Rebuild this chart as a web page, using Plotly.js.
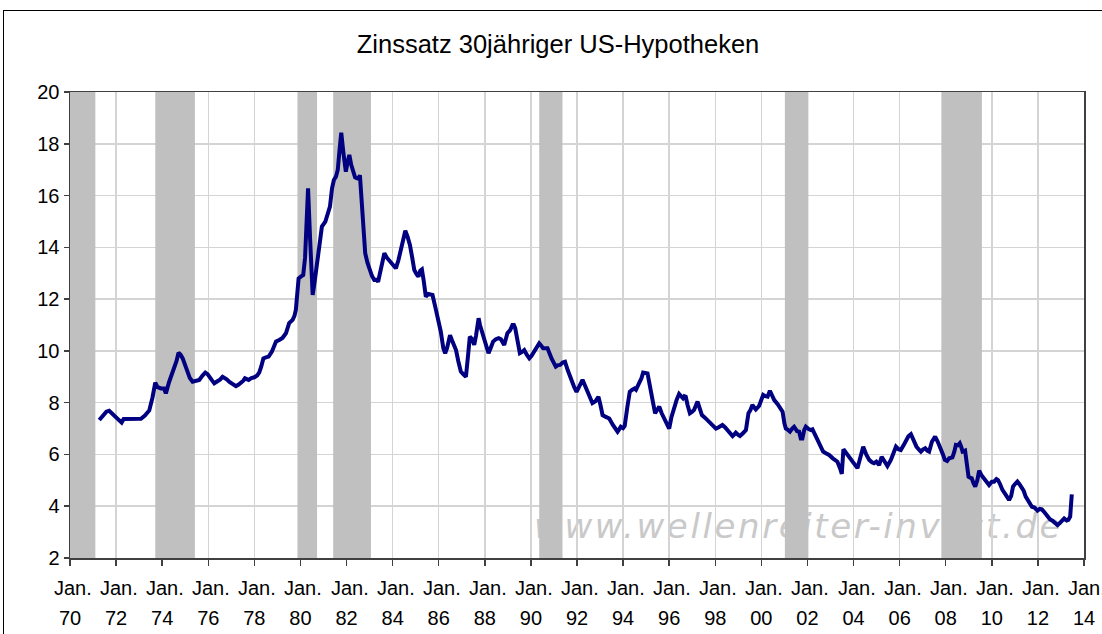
<!DOCTYPE html>
<html>
<head>
<meta charset="utf-8">
<script src="https://cdn.plot.ly/plotly-3.0.1.min.js"></script>
<style>
  html, body { margin:0; padding:0; background:#fff; overflow:hidden; }
  #wrap { position:relative; width:1102px; height:634px; overflow:hidden; }
  #frame { position:absolute; left:3px; top:10px; width:1200px; height:800px; border:1px solid #000; box-sizing:border-box; pointer-events:none; }
  #wm { position:absolute; left:534px; top:506px; font-family:"DejaVu Sans", sans-serif; font-style:italic; font-size:34px; letter-spacing:2.6px; color:#c9c9c9; white-space:nowrap; }
  #chart { position:absolute; left:0; top:0; width:1130px; height:634px; }
</style>
</head>
<body>
<div id="wrap">
  <div id="wm">www.wellenreiter-invest.de</div>
  <div id="chart"></div>
  <div id="frame"></div>
</div>
<script>
// Dates as decimal years, values in percent
const years = [
1971.27,1971.45,1971.58,1971.70,1971.85,1972.0,1972.12,1972.24,1972.33,1972.5,1972.7,1972.9,1973.08,1973.25,1973.44,1973.58,1973.70,1973.80,1973.95,1974.08,
1974.16,1974.30,1974.38,1974.52,1974.62,1974.71,1974.80,1974.89,1975.0,1975.1,1975.2,1975.32,1975.45,1975.61,1975.75,1975.87,1975.97,1976.07,1976.17,1976.26,
1976.40,1976.52,1976.62,1976.72,1976.80,1976.92,1977.05,1977.2,1977.32,1977.42,1977.52,1977.59,1977.75,1977.87,1978.0,1978.12,1978.21,1978.3,1978.39,1978.5,
1978.62,1978.76,1978.85,1978.94,1979.08,1979.22,1979.37,1979.51,1979.66,1979.74,1979.80,1979.86,1979.92,1980.03,1980.12,1980.2,1980.27,1980.33,1980.42,1980.53,
1980.62,1980.70,1980.79,1980.87,1980.93,1981.08,1981.18,1981.28,1981.37,1981.45,1981.54,1981.62,1981.70,1981.77,1981.87,1981.97,1982.05,1982.12,1982.20,1982.29,
1982.37,1982.44,1982.52,1982.58,1982.65,1982.73,1982.81,1982.91,1983.01,1983.1,1983.2,1983.29,1983.37,1983.48,1983.56,1983.64,1983.75,1983.88,1984.0,1984.14,
1984.25,1984.36,1984.45,1984.55,1984.65,1984.75,1984.85,1984.94,1985.05,1985.12,1985.20,1985.27,1985.35,1985.44,1985.55,1985.65,1985.73,1985.85,1985.95,1986.02,
1986.09,1986.2,1986.28,1986.36,1986.49,1986.58,1986.68,1986.75,1986.85,1986.96,1987.06,1987.18,1987.27,1987.35,1987.45,1987.54,1987.62,1987.73,1987.79,1987.93,
1988.05,1988.16,1988.25,1988.36,1988.48,1988.6,1988.7,1988.78,1988.84,1988.98,1989.1,1989.2,1989.26,1989.32,1989.42,1989.52,1989.6,1989.71,1989.82,1989.93,
1990.02,1990.1,1990.25,1990.36,1990.45,1990.53,1990.62,1990.72,1990.9,1991.08,1991.18,1991.27,1991.38,1991.48,1991.6,1991.74,1991.88,1991.98,1992.1,1992.24,
1992.35,1992.46,1992.57,1992.67,1992.8,1992.93,1993.02,1993.11,1993.25,1993.40,1993.55,1993.7,1993.76,1993.83,1993.9,1994.0,1994.07,1994.18,1994.29,1994.4,
1994.5,1994.56,1994.62,1994.7,1994.8,1994.87,1994.97,1995.06,1995.13,1995.2,1995.3,1995.39,1995.48,1995.57,1995.67,1995.78,1995.9,1996.0,1996.1,1996.22,
1996.32,1996.43,1996.52,1996.6,1996.66,1996.72,1996.8,1996.9,1997.0,1997.08,1997.23,1997.32,1997.42,1997.55,1997.66,1997.85,1998.03,1998.15,1998.31,1998.42,
1998.53,1998.65,1998.75,1998.83,1998.89,1999.0,1999.07,1999.2,1999.33,1999.44,1999.52,1999.61,1999.76,1999.9,2000.0,2000.08,2000.18,2000.27,2000.37,2000.46,
2000.56,2000.7,2000.82,2000.92,2001.0,2001.06,2001.15,2001.24,2001.34,2001.42,2001.55,2001.64,2001.71,2001.78,2001.86,2001.93,2002.05,2002.15,2002.22,2002.35,
2002.48,2002.58,2002.68,2002.8,2002.94,2003.1,2003.3,2003.42,2003.49,2003.56,2003.65,2003.81,2003.95,2004.08,2004.17,2004.3,2004.42,2004.55,2004.68,2004.8,
2004.89,2004.99,2005.11,2005.22,2005.35,2005.47,2005.62,2005.75,2005.84,2005.95,2006.05,2006.17,2006.27,2006.38,2006.49,2006.6,2006.73,2006.82,2006.92,2007.02,
2007.11,2007.2,2007.28,2007.4,2007.54,2007.65,2007.79,2007.88,2007.96,2008.06,2008.15,2008.29,2008.37,2008.44,2008.53,2008.61,2008.67,2008.73,2008.84,2008.92,
2008.99,2009.06,2009.13,2009.2,2009.28,2009.37,2009.45,2009.55,2009.67,2009.78,2009.88,2010.0,2010.1,2010.2,2010.27,2010.36,2010.46,2010.6,2010.75,2010.84,
2010.92,2011.0,2011.11,2011.2,2011.3,2011.38,2011.47,2011.6,2011.74,2011.85,2011.98,2012.08,2012.17,2012.3,2012.41,2012.52,2012.63,2012.75,2012.85,2012.95,
2013.05,2013.14,2013.25,2013.32,2013.4,2013.47
];
const rates = [
7.33,7.55,7.65,7.69,7.55,7.42,7.30,7.23,7.37,7.37,7.37,7.37,7.38,7.5,7.7,8.2,8.77,8.6,8.55,8.55,
8.36,8.8,9.0,9.26,9.6,9.93,9.85,9.71,9.45,9.13,8.95,8.81,8.85,8.88,9.05,9.16,9.1,9.0,8.85,8.75,
8.81,8.9,9.0,8.95,8.9,8.8,8.71,8.64,8.7,8.77,8.85,8.94,8.88,8.95,8.98,9.05,9.16,9.4,9.71,9.75,
9.78,9.97,10.15,10.36,10.42,10.5,10.68,11.07,11.2,11.35,11.58,12.2,12.8,12.88,12.93,13.6,15.5,16.28,14.3,12.16,
12.7,13.2,13.77,14.3,14.8,14.99,15.3,15.57,16.28,16.6,16.73,17.0,17.8,18.43,17.6,16.92,17.3,17.57,17.2,16.92,
16.7,16.67,16.65,16.79,15.8,14.8,13.77,13.4,13.12,12.9,12.74,12.75,12.67,13.2,13.55,13.77,13.6,13.45,13.35,13.19,
13.5,13.9,14.3,14.64,14.4,14.09,13.6,13.12,12.95,12.87,13.1,13.15,12.7,12.09,12.2,12.17,12.16,11.7,11.32,11.0,
10.74,10.1,9.91,10.1,10.61,10.4,10.15,10.03,9.6,9.2,9.1,9.0,9.8,10.55,10.45,10.23,10.6,11.26,11.0,10.61,
10.2,9.91,10.1,10.36,10.45,10.49,10.45,10.3,10.23,10.68,10.8,11.0,11.0,10.87,10.4,9.91,9.95,10.03,9.85,9.71,
9.8,9.91,10.15,10.29,10.2,10.1,10.1,10.1,9.7,9.39,9.45,9.46,9.55,9.58,9.25,8.88,8.6,8.42,8.65,8.88,
8.65,8.42,8.2,7.98,8.05,8.23,7.9,7.52,7.45,7.39,7.15,6.95,6.88,6.97,7.07,7.02,7.1,7.8,8.42,8.5,
8.55,8.5,8.6,8.75,8.95,9.16,9.15,9.13,8.8,8.36,8.0,7.59,7.7,7.85,7.6,7.39,7.2,7.0,7.45,7.85,
8.1,8.34,8.25,8.17,8.25,8.23,7.9,7.59,7.65,7.72,8.04,7.8,7.52,7.42,7.33,7.15,7.0,7.05,7.14,7.05,
6.94,6.85,6.71,6.78,6.84,6.75,6.71,6.82,6.94,7.59,7.7,7.91,7.74,7.87,8.1,8.3,8.25,8.23,8.46,8.25,
8.1,7.95,7.8,7.65,7.2,7.0,6.95,6.88,7.0,7.07,6.9,6.88,6.62,6.62,6.95,7.07,6.98,6.94,6.97,6.7,
6.43,6.25,6.11,6.05,5.98,5.85,5.72,5.45,5.25,6.2,6.1,5.91,5.75,5.6,5.47,5.9,6.3,6.0,5.79,5.7,
5.66,5.72,5.59,5.91,5.7,5.55,5.79,6.05,6.3,6.2,6.17,6.35,6.56,6.7,6.78,6.55,6.3,6.2,6.11,6.2,
6.24,6.15,6.11,6.49,6.69,6.5,6.24,6.0,5.79,5.75,5.85,5.89,6.1,6.37,6.35,6.43,6.3,6.11,6.15,5.6,
5.14,5.1,5.08,4.9,4.76,5.0,5.37,5.2,5.08,4.95,4.82,4.95,4.95,5.05,5.01,4.85,4.63,4.45,4.24,4.4,
4.76,4.85,4.95,4.85,4.73,4.6,4.37,4.15,3.98,3.95,3.83,3.9,3.88,3.75,3.6,3.5,3.44,3.35,3.27,3.35,
3.45,3.53,3.45,3.47,3.6,4.46
];

// Recession periods (shaded), decimal years
const recStart = [1969.95, 1973.70, 1979.87, 1981.42, 1990.36, 2001.02, 2007.81];
const recEnd   = [1971.10, 1975.42, 1980.72, 1983.06, 1991.37, 2002.04, 2009.57];

// x tick positions and labels (two rows: month / year)
const tickYears = [1970,1972,1974,1976,1978,1980,1982,1984,1986,1988,1990,1992,1994,1996,1998,2000,2002,2004,2006,2008,2010,2012,2014];
const tickMonth = "Jan.";
const tickLabels = ["70","72","74","76","78","80","82","84","86","88","90","92","94","96","98","00","02","04","06","08","10","12","14"];
const yTicks = [2,4,6,8,10,12,14,16,18,20];
const xRange = [tickYears[0], tickYears[tickYears.length-1]];

const traces = [];
// recession bands as filled rectangles (drawn below line, above gridlines)
recStart.forEach((s, i) => {
  traces.push({
    type:'scatter', mode:'lines',
    x:[s, recEnd[i], recEnd[i], s, s],
    y:[yTicks[0], yTicks[0], yTicks[yTicks.length-1], yTicks[yTicks.length-1], yTicks[0]],
    fill:'toself', fillcolor:'#c0c0c0', line:{width:0, color:'#c0c0c0'},
    hoverinfo:'skip', showlegend:false
  });
});
traces.push({
  type:'scatter', mode:'lines', x:years, y:rates,
  line:{color:'#000080', width:4},
  showlegend:false, name:'30J Hypothekenzins'
});
// empty trace so the second (year-row) x axis is drawn
traces.push({type:'scatter', mode:'lines', x:[], y:[], xaxis:'x2', yaxis:'y', showlegend:false, hoverinfo:'skip'});

const plotH = 634 - 92 - 76;
// month row of the x labels, at the tick positions (fraction of the x domain)
const monthRow = tickYears.map(v => ({
  x:(v - xRange[0]) / (xRange[1] - xRange[0]), xref:'paper',
  y:-30/plotH, yref:'paper', yanchor:'middle', xanchor:'left', xshift:-18,
  text:tickMonth, showarrow:false, font:{size:20, color:'#000'}
}));

const layout = {
  width:1130, height:634,
  margin:{l:70, r:46, t:92, b:76},
  paper_bgcolor:'rgba(0,0,0,0)', plot_bgcolor:'rgba(0,0,0,0)',
  font:{family:'"Liberation Sans", Arial, sans-serif', color:'#000'},
  title:{text:'Zinssatz 30jähriger US-Hypotheken', font:{size:25.5, color:'#000'},
         x:558/1130, xref:'container', xanchor:'center', y:0.93, yref:'container', yanchor:'middle'},
  xaxis:{
    range:xRange, autorange:false,
    tickmode:'array', tickvals:tickYears, showticklabels:false,
    ticks:'outside', ticklen:6, tickcolor:'#404040', tickwidth:1.5,
    showline:true, linecolor:'#404040', linewidth:1.5, mirror:true,
    showgrid:true, gridcolor:'#d4d4d4', gridwidth:1.5, zeroline:false, fixedrange:true
  },
  xaxis2:{
    overlaying:'x', anchor:'y', side:'bottom',
    range:xRange, autorange:false,
    tickmode:'array', tickvals:tickYears, ticktext:tickLabels,
    tickfont:{size:20}, ticks:'', ticklen:0,
    ticklabeloverflow:'allow', ticklabelstandoff:46,
    showline:false, showgrid:false, zeroline:false, fixedrange:true
  },
  yaxis:{
    range:[2, 20], autorange:false,
    tickmode:'array', tickvals:yTicks, ticktext:yTicks.map(String),
    tickfont:{size:20}, ticks:'outside', ticklen:5, tickcolor:'#404040', tickwidth:1.5,
    showline:true, linecolor:'#404040', linewidth:1.5, mirror:true,
    showgrid:true, gridcolor:'#d4d4d4', gridwidth:1.5, zeroline:false, fixedrange:true
  },
  annotations: monthRow,
  showlegend:false
};
Plotly.newPlot('chart', traces, layout, {displayModeBar:false, staticPlot:true});
</script>
</body>
</html>
